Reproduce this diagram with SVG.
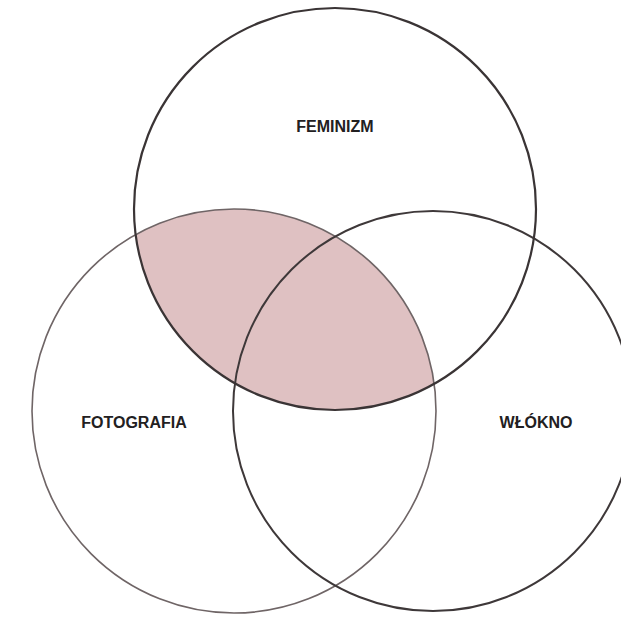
<svg xmlns="http://www.w3.org/2000/svg" width="621" height="617" viewBox="0 0 621 617">
  <style>
    .ring { fill: none; }
    .label { font-family: "Liberation Sans", Arial, sans-serif; font-weight: bold; font-size: 16px; fill: #222021; text-anchor: middle; }
  </style>
  <defs>
    <clipPath id="clipTop">
      <circle cx="335" cy="209" r="201"/>
    </clipPath>
  </defs>
  <rect x="0" y="0" width="621" height="617" fill="#ffffff"/>
  <g id="overlap">
    <circle cx="234" cy="411" r="202" fill="#dfc1c2" clip-path="url(#clipTop)"/>
  </g>
  <g id="fotografia">
    <circle class="ring" cx="234" cy="411" r="202" stroke="#6f6566" stroke-width="1.6"/>
    <text class="label" x="134" y="428">FOTOGRAFIA</text>
  </g>
  <g id="wlokno">
    <circle class="ring" cx="433" cy="411" r="200" stroke="#3e3839" stroke-width="2"/>
    <text class="label" x="536" y="428">WŁÓKNO</text>
  </g>
  <g id="feminizm">
    <circle class="ring" cx="335" cy="209" r="201" stroke="#3a3435" stroke-width="2.2"/>
    <text class="label" x="335" y="132">FEMINIZM</text>
  </g>
  <g id="connectors"></g>
</svg>
